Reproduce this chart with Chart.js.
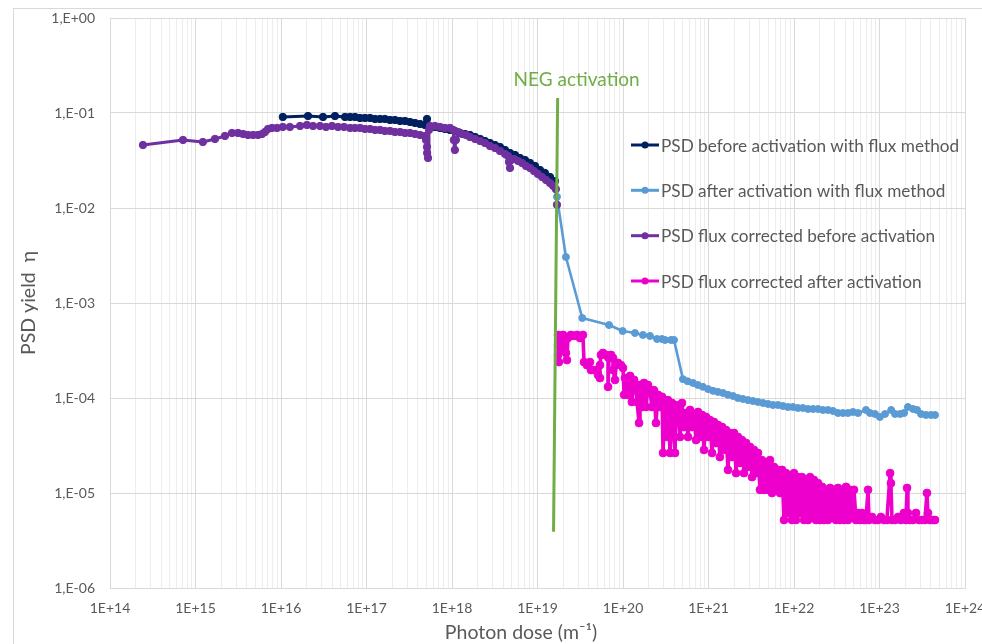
<!DOCTYPE html>
<html>
<head>
<meta charset="utf-8">
<script src="https://cdn.jsdelivr.net/npm/chart.js@4.4.1/dist/chart.umd.min.js"></script>
<style>
  html, body { margin: 0; padding: 0; background: #ffffff; }
  canvas { display: block; }
</style>
</head>
<body>
<canvas id="psd" width="982" height="644"></canvas>
<script>
// ---- Series data: photon dose (m^-1) and PSD yield ----
const navyDose = [1.05e16, 2.07e16, 3.10e16, 4.28e16, 5.61e16, 6.42e16, 7.33e16, 8.40e16, 9.60e16, 1.10e17,
  1.26e17, 1.44e17, 1.64e17, 1.88e17, 2.15e17, 2.47e17, 2.82e17, 3.23e17, 3.69e17, 4.23e17,
  4.83e17, 5.10e17, 5.53e17, 6.33e17, 7.24e17, 8.28e17, 9.48e17, 1.08e18, 1.24e18, 1.42e18,
  1.62e18, 1.86e18, 2.13e18, 2.43e18, 2.78e18, 3.18e18, 3.64e18, 4.17e18, 4.77e18, 5.46e18,
  6.24e18, 7.14e18, 8.17e18, 9.35e18, 1.07e19, 1.22e19, 1.40e19, 1.60e19];
const navyYield = [0.0908, 0.0929, 0.0908, 0.0929, 0.0908, 0.0908, 0.0908, 0.0886, 0.0886, 0.0886,
  0.0865, 0.0865, 0.0865, 0.0844, 0.0844, 0.0824, 0.0824, 0.0804, 0.0785, 0.0766,
  0.0748, 0.0865, 0.0713, 0.0713, 0.0696, 0.0679, 0.0663, 0.0647, 0.0616, 0.0601,
  0.0587, 0.0559, 0.0533, 0.0507, 0.0483, 0.0460, 0.0439, 0.0408, 0.0379, 0.0361,
  0.0336, 0.0320, 0.0298, 0.0277, 0.0251, 0.0234, 0.0212, 0.0192];

const blueDose = [1.69e19, 2.15e19, 3.34e19, 6.86e19, 9.9e19, 1.38e20, 1.71e20, 2.07e20, 2.50e20, 2.86e20,
  3.10e20, 3.64e20, 3.95e20, 5.03e20, 5.7e20, 6.6e20, 7.5e20, 8.6e20, 9.9e20, 1.13e21,
  1.29e21, 1.48e21, 1.69e21, 1.94e21, 2.21e21, 2.53e21, 2.90e21, 3.31e21, 3.79e21, 4.34e21,
  4.97e21, 5.68e21, 6.50e21, 7.43e21, 8.51e21, 9.73e21, 1.11e22, 1.27e22, 1.46e22, 1.67e22,
  1.91e22, 2.18e22, 2.50e22, 2.86e22, 3.27e22, 3.74e22, 4.28e22, 4.90e22, 5.61e22, 6.95e22,
  7.74e22, 8.86e22, 1.01e23, 1.16e23, 1.37e23, 1.52e23, 1.74e23, 1.94e23, 2.15e23, 2.47e23,
  2.75e23, 3.06e23, 3.50e23, 4.00e23, 4.46e23];
const blueYield = [0.0131, 0.00305, 6.95e-4, 5.86e-4, 5.07e-4, 4.83e-4, 4.61e-4, 4.50e-4, 4.18e-4, 4.18e-4,
  4.08e-4, 4.08e-4, 4.08e-4, 1.58e-4, 1.50e-4, 1.44e-4, 1.37e-4, 1.31e-4, 1.24e-4, 1.19e-4,
  1.16e-4, 1.13e-4, 1.08e-4, 1.05e-4, 1.0e-4, 9.76e-5, 9.5e-5, 9.3e-5, 9.08e-5, 8.86e-5,
  8.65e-5, 8.44e-5, 8.44e-5, 8.24e-5, 8.04e-5, 8.04e-5, 7.85e-5, 7.85e-5, 7.66e-5, 7.66e-5,
  7.66e-5, 7.48e-5, 7.48e-5, 7.30e-5, 6.95e-5, 6.95e-5, 6.95e-5, 7.13e-5, 6.95e-5, 7.48e-5,
  6.95e-5, 6.79e-5, 6.31e-5, 6.79e-5, 7.48e-5, 6.79e-5, 6.79e-5, 6.95e-5, 8.04e-5, 7.66e-5,
  7.48e-5, 6.79e-5, 6.63e-5, 6.63e-5, 6.63e-5];

const purpleDose = [2.43e14, 7.14e14, 1.22e15, 1.69e15, 2.21e15, 2.67e15, 3.14e15, 3.60e15, 4.11e15, 4.71e15,
  5.38e15, 6.00e15, 6.50e15, 7.05e15, 7.85e15, 8.98e15, 1.05e16, 1.27e16, 1.67e16, 2.01e16,
  2.37e16, 2.86e16, 3.36e16, 3.95e16, 4.64e16, 5.46e16, 6.42e16, 7.33e16, 8.40e16, 9.60e16,
  1.10e17, 1.26e17, 1.44e17, 1.64e17, 1.88e17, 2.15e17, 2.47e17, 2.82e17, 3.23e17, 3.69e17,
  4.23e17, 4.83e17, 4.97e17, 5.10e17, 5.12e17, 5.24e17, 5.38e17, 5.53e17, 6.33e17, 7.24e17,
  8.28e17, 9.48e17, 1.03e18, 1.05e18, 1.08e18, 1.11e18, 1.18e18, 1.31e18, 1.46e18, 1.62e18,
  1.86e18, 2.13e18, 2.43e18, 2.78e18, 3.18e18, 3.64e18, 4.17e18, 4.52e18, 4.64e18, 4.77e18,
  4.90e18, 5.31e18, 5.92e18, 6.59e18, 7.33e18, 8.17e18, 9.10e18, 1.01e19, 1.13e19, 1.26e19,
  1.40e19, 1.52e19, 1.64e19, 1.69e19];
const purpleYield = [0.0460, 0.0520, 0.0495, 0.0533, 0.0573, 0.0616, 0.0616, 0.0601, 0.0587, 0.0587,
  0.0587, 0.0601, 0.0631, 0.0679, 0.0696, 0.0696, 0.0713, 0.0713, 0.0730, 0.0748,
  0.0730, 0.0730, 0.0713, 0.0730, 0.0713, 0.0713, 0.0696, 0.0696, 0.0696, 0.0679,
  0.0679, 0.0663, 0.0663, 0.0647, 0.0647, 0.0631, 0.0631, 0.0616, 0.0616, 0.0601,
  0.0587, 0.0573, 0.0520, 0.0439, 0.0379, 0.0336, 0.0663, 0.0730, 0.0730, 0.0713,
  0.0696, 0.0696, 0.0663, 0.0520, 0.0408, 0.0520, 0.0631, 0.0601, 0.0587, 0.0559,
  0.0533, 0.0507, 0.0483, 0.0449, 0.0428, 0.0398, 0.0370, 0.0353, 0.0305, 0.0264,
  0.0320, 0.0328, 0.0313, 0.0298, 0.0277, 0.0264, 0.0245, 0.0228, 0.0212, 0.0197,
  0.0183, 0.0171, 0.0158, 0.0108];

const magentaDose = [
  1.74e19, 1.74e19, 1.74e19, 1.78e19, 1.83e19, 1.93e19, 1.99e19, 2.10e19, 2.15e19, 2.21e19,
  2.27e19, 2.46e19, 2.67e19, 2.90e19, 3.14e19, 3.40e19, 3.50e19, 3.79e19, 4.11e19, 4.22e19,
  4.58e19, 4.96e19, 5.10e19, 5.38e19, 5.38e19, 5.53e19, 5.83e19, 6.33e19, 6.68e19, 6.68e19,
  6.86e19, 7.24e19, 7.64e19, 7.64e19, 8.06e19, 8.28e19, 8.74e19, 9.47e19, 1.00e20, 1.03e20,
  1.055e20, 1.11e20, 1.14e20, 1.21e20, 1.27e20, 1.35e20, 1.42e20, 1.46e20, 1.54e20, 1.58e20,
  1.67e20, 1.76e20, 1.86e20, 1.96e20, 2.07e20, 2.18e20, 2.30e20, 2.43e20, 2.57e20, 2.71e20,
  2.86e20, 2.94e20, 3.10e20, 3.27e20, 3.36e20, 3.55e20, 3.74e20, 3.84e20, 4.06e20, 4.17e20,
  4.40e20, 4.64e20, 4.90e20, 5.17e20, 5.45e20, 5.76e20, 6.08e20, 6.41e20, 6.77e20, 7.14e20,
  7.54e20, 7.95e20, 8.39e20, 8.86e20, 9.35e20, 9.86e20, 1.04e21, 1.10e21, 1.16e21, 1.22e21,
  1.29e21, 1.36e21, 1.44e21, 1.52e21, 1.60e21, 1.69e21, 1.78e21, 1.88e21, 1.99e21, 2.10e21,
  2.21e21, 2.34e21, 2.46e21, 2.60e21, 2.75e21, 2.90e21, 3.06e21, 3.23e21, 3.40e21, 3.59e21,
  3.79e21, 4.00e21, 4.22e21, 4.46e21, 4.70e21, 4.96e21, 5.24e21, 5.53e21, 5.83e21, 6.16e21,
  6.50e21, 6.86e21, 7.24e21, 7.64e21, 8.06e21, 8.51e21, 8.98e21, 9.47e21, 1.00e22, 1.055e22,
  1.11e22, 1.175e22, 1.24e22, 1.31e22, 1.38e22, 1.46e22, 1.54e22, 1.62e22, 1.71e22, 1.81e22,
  1.91e22, 2.01e22, 2.13e22, 2.24e22, 2.37e22, 2.50e22, 2.64e22, 2.78e22, 2.94e22, 3.10e22,
  3.27e22, 3.45e22, 3.64e22, 3.84e22, 4.06e22, 4.28e22, 4.52e22, 4.77e22, 5.03e22, 5.31e22,
  5.60e22, 5.91e22, 6.24e22, 6.59e22, 6.95e22, 7.34e22, 7.54e22, 8.17e22, 8.86e22, 9.60e22,
  1.04e23, 1.13e23, 1.22e23, 1.33e23, 1.36e23, 1.40e23, 1.52e23, 1.65e23, 1.78e23, 1.93e23,
  2.04e23, 2.10e23, 2.15e23, 2.27e23, 2.46e23, 2.67e23, 2.90e23, 3.14e23, 3.40e23, 3.59e23,
  3.69e23, 3.89e23, 4.22e23, 4.46e23];
const magentaYield = [
  4.61e-4, 3.61e-4, 2.84e-4, 2.39e-4, 4.08e-4, 3.20e-4, 4.61e-4, 4.28e-4, 2.98e-4, 2.51e-4,
  4.28e-4, 4.61e-4, 4.50e-4, 4.61e-4, 4.28e-4, 4.61e-4, 2.39e-4, 2.22e-4, 2.39e-4, 1.97e-4,
  1.97e-4, 1.97e-4, 1.75e-4, 1.62e-4, 2.22e-4, 2.84e-4, 2.98e-4, 2.84e-4, 2.70e-4, 1.31e-4,
  2.64e-4, 2.84e-4, 2.64e-4, 1.97e-4, 1.55e-4, 2.22e-4, 2.34e-4, 2.22e-4, 2.07e-4, 1.08e-4,
  1.62e-4, 1.55e-4, 1.08e-4, 1.71e-4, 9.08e-5, 1.55e-4, 1.27e-4, 9.08e-5, 5.46e-5, 1.37e-4,
  8.04e-5, 1.44e-4, 8.04e-5, 1.37e-4, 1.16e-4, 8.04e-5, 1.21e-4, 5.46e-5, 1.08e-4, 8.04e-5,
  1.03e-4, 2.64e-5, 9.5e-5, 3.89e-5, 9.5e-5, 2.64e-5, 8.86e-5, 5.46e-5, 2.64e-5, 8.4e-5,
  7.48e-5, 3.89e-5, 8.86e-5, 4.95e-5, 6.95e-5, 3.89e-5, 7.48e-5, 4.95e-5, 6.63e-5, 3.61e-5,
  7.13e-5, 3.89e-5, 6.63e-5, 2.84e-5, 6.31e-5, 3.89e-5, 5.86e-5, 2.64e-5, 5.59e-5, 3.36e-5,
  5.2e-5, 2.39e-5, 4.95e-5, 2.84e-5, 4.61e-5, 1.75e-5, 4.28e-5, 2.39e-5, 4.28e-5, 1.62e-5,
  3.89e-5, 2.07e-5, 3.61e-5, 1.62e-5, 3.36e-5, 1.88e-5, 3.05e-5, 1.47e-5, 2.84e-5, 1.62e-5,
  2.64e-5, 1.08e-5, 2.22e-5, 1.08e-5, 2.07e-5, 1.08e-5, 2.22e-5, 1.0e-5, 1.88e-5, 1.08e-5,
  1.75e-5, 1.0e-5, 1.75e-5, 5.2e-6, 1.62e-5, 6.16e-6, 1.47e-5, 5.2e-6, 1.62e-5, 5.2e-6,
  1.47e-5, 6.16e-6, 1.47e-5, 5.2e-6, 1.37e-5, 5.2e-6, 1.47e-5, 5.59e-6, 1.37e-5, 5.2e-6,
  1.27e-5, 5.2e-6, 1.16e-5, 5.2e-6, 1.08e-5, 5.2e-6, 1.13e-5, 5.59e-6, 1.08e-5, 5.2e-6,
  1.13e-5, 5.2e-6, 1.08e-5, 5.2e-6, 1.16e-5, 5.2e-6, 1.08e-5, 5.59e-6, 1.08e-5, 5.2e-6,
  6.16e-6, 5.2e-6, 6.16e-6, 5.2e-6, 5.2e-6, 1.08e-5, 5.2e-6, 5.59e-6, 5.2e-6, 5.2e-6,
  5.59e-6, 5.2e-6, 5.2e-6, 1.62e-5, 1.27e-5, 5.2e-6, 5.2e-6, 5.59e-6, 5.2e-6, 6.16e-6,
  5.2e-6, 1.13e-5, 6.16e-6, 5.2e-6, 5.2e-6, 6.16e-6, 5.2e-6, 5.2e-6, 5.2e-6, 1.0e-5,
  6.16e-6, 5.2e-6, 5.2e-6, 5.2e-6];

// NEG activation marker line (two end points)
const negDose = [1.72e19, 1.54e19];
const negYield = [0.144, 3.9e-6];

// ---- Text ----
const seriesNames = [
  'PSD before activation with flux method',
  'PSD after activation with flux method',
  'PSD flux corrected before activation',
  'PSD flux corrected after activation'
];
const negLabel = 'NEG activation';
const xTitle = 'Photon dose (m\u207B\u00B9)';
const yTitle = 'PSD yield  \u03B7';
const xTickLabels = ['1E+14', '1E+15', '1E+16', '1E+17', '1E+18', '1E+19', '1E+20', '1E+21', '1E+22', '1E+23', '1E+24'];
const yTickLabels = ['1,E-06', '1,E-05', '1,E-04', '1,E-03', '1,E-02', '1,E-01', '1,E+00'];

// ---- Colours ----
const NAVY = '#002060';
const SKY = '#5B9BD5';
const PURPLE = '#7030A0';
const MAGENTA = '#EE00CC';
const GREEN = '#70AD47';
const TEXT = '#595959';

const pairs = (xs, ys) => xs.map((x, i) => ({ x: x, y: ys[i] }));

const decade = v => {
  const l = Math.log10(v);
  return Math.abs(l - Math.round(l)) < 1e-6;
};
const integerMantissa = v => {
  const m = v / Math.pow(10, Math.floor(Math.log10(v) + 1e-9));
  return Math.abs(m - Math.round(m)) < 1e-6;
};

function series(label, xs, ys, color, order, width, radius) {
  return {
    label: label,
    data: pairs(xs, ys),
    borderColor: color,
    backgroundColor: color,
    pointBackgroundColor: color,
    pointBorderColor: color,
    pointBorderWidth: 1,
    pointRadius: radius,
    borderWidth: width,
    borderJoinStyle: 'round',
    borderCapStyle: 'round',
    order: order,
    tension: 0
  };
}

const datasets = [
  series(seriesNames[0], navyDose, navyYield, NAVY, 4, 3, 3.7),
  series(seriesNames[1], blueDose, blueYield, SKY, 3, 2.6, 3.5),
  series(seriesNames[2], purpleDose, purpleYield, PURPLE, 2, 3, 3.7),
  series(seriesNames[3], magentaDose, magentaYield, MAGENTA, 1, 3.6, 3.9),
  {
    label: negLabel,
    data: pairs(negDose, negYield),
    borderColor: GREEN,
    borderWidth: 3,
    pointRadius: 0,
    order: 0,
    tension: 0
  }
];

// Frame, axis titles, activation label and the in-plot legend
const decorations = {
  id: 'decorations',
  beforeDraw(chart) {
    const ctx = chart.ctx;
    ctx.save();
    ctx.fillStyle = '#ffffff';
    ctx.fillRect(0, 0, chart.width, chart.height);
    ctx.strokeStyle = '#D9D9D9';
    ctx.lineWidth = 1;
    ctx.strokeRect(13.5, 8.5, chart.width + 20, chart.height + 20);
    ctx.restore();
  },
  afterDraw(chart) {
    const ctx = chart.ctx;
    const xs = chart.scales.x, ys = chart.scales.y;
    const area = chart.chartArea;
    ctx.save();

    // activation label above the green line
    ctx.fillStyle = GREEN;
    ctx.font = '19px Lato';
    ctx.textAlign = 'center';
    ctx.textBaseline = 'middle';
    ctx.fillText(negLabel, xs.getPixelForValue(negDose[0]) + 19, ys.getPixelForValue(negYield[0]) - 18);

    // axis titles
    ctx.fillStyle = TEXT;
    ctx.font = '19.5px Lato';
    ctx.fillText(xTitle, 521, 633);
    ctx.save();
    ctx.translate(29, (area.top + area.bottom) / 2);
    ctx.rotate(-Math.PI / 2);
    ctx.fillText(yTitle, 0, 0);
    ctx.restore();

    // legend
    const rows = [145, 190.3, 235.7, 281];
    ctx.font = '17.2px Lato';
    ctx.textAlign = 'left';
    for (let i = 0; i < 4; i++) {
      const ds = chart.data.datasets[i];
      const y = rows[i];
      ctx.strokeStyle = ds.borderColor;
      ctx.lineWidth = 3;
      ctx.beginPath();
      ctx.moveTo(631, y);
      ctx.lineTo(659, y);
      ctx.stroke();
      ctx.fillStyle = ds.borderColor;
      ctx.beginPath();
      ctx.arc(645, y, 3.5, 0, Math.PI * 2);
      ctx.fill();
      ctx.fillStyle = TEXT;
      ctx.fillText(ds.label, 661, y + 1);
    }
    ctx.restore();
  }
};

new Chart(document.getElementById('psd'), {
  type: 'line',
  data: { datasets: datasets },
  plugins: [decorations],
  options: {
    responsive: false,
    animation: false,
    devicePixelRatio: 1,
    layout: { padding: { left: 0, top: 18, right: 17, bottom: 0 } },
    plugins: { legend: { display: false }, tooltip: { enabled: false } },
    scales: {
      x: {
        type: 'logarithmic',
        min: 1e14,
        max: 1e24,
        afterBuildTicks: s => { s.ticks = s.ticks.filter(t => integerMantissa(t.value)); },
        afterFit: s => { s.height = 56; s.paddingLeft = 0; s.paddingRight = 0; },
        grid: {
          drawTicks: false,
          color: c => (c.tick && decade(c.tick.value)) ? '#D9D9D9' : '#EDEDED',
          lineWidth: 1
        },
        border: { color: '#D9D9D9' },
        ticks: {
          autoSkip: false,
          maxRotation: 0,
          minRotation: 0,
          padding: 12,
          color: TEXT,
          font: { family: 'Lato', size: 14 },
          callback: v => decade(v) ? xTickLabels[Math.round(Math.log10(v)) - 14] : ''
        }
      },
      y: {
        type: 'logarithmic',
        min: 1e-6,
        max: 1,
        afterBuildTicks: s => { s.ticks = s.ticks.filter(t => decade(t.value)); },
        afterFit: s => { s.width = 110; s.paddingTop = 0; s.paddingBottom = 0; },
        grid: { drawTicks: false, color: '#D9D9D9', lineWidth: 1 },
        border: { color: '#D9D9D9' },
        ticks: {
          padding: 15,
          color: TEXT,
          font: { family: 'Lato', size: 14 },
          callback: v => yTickLabels[Math.round(Math.log10(v)) + 6]
        }
      }
    }
  }
});
</script>
</body>
</html>
